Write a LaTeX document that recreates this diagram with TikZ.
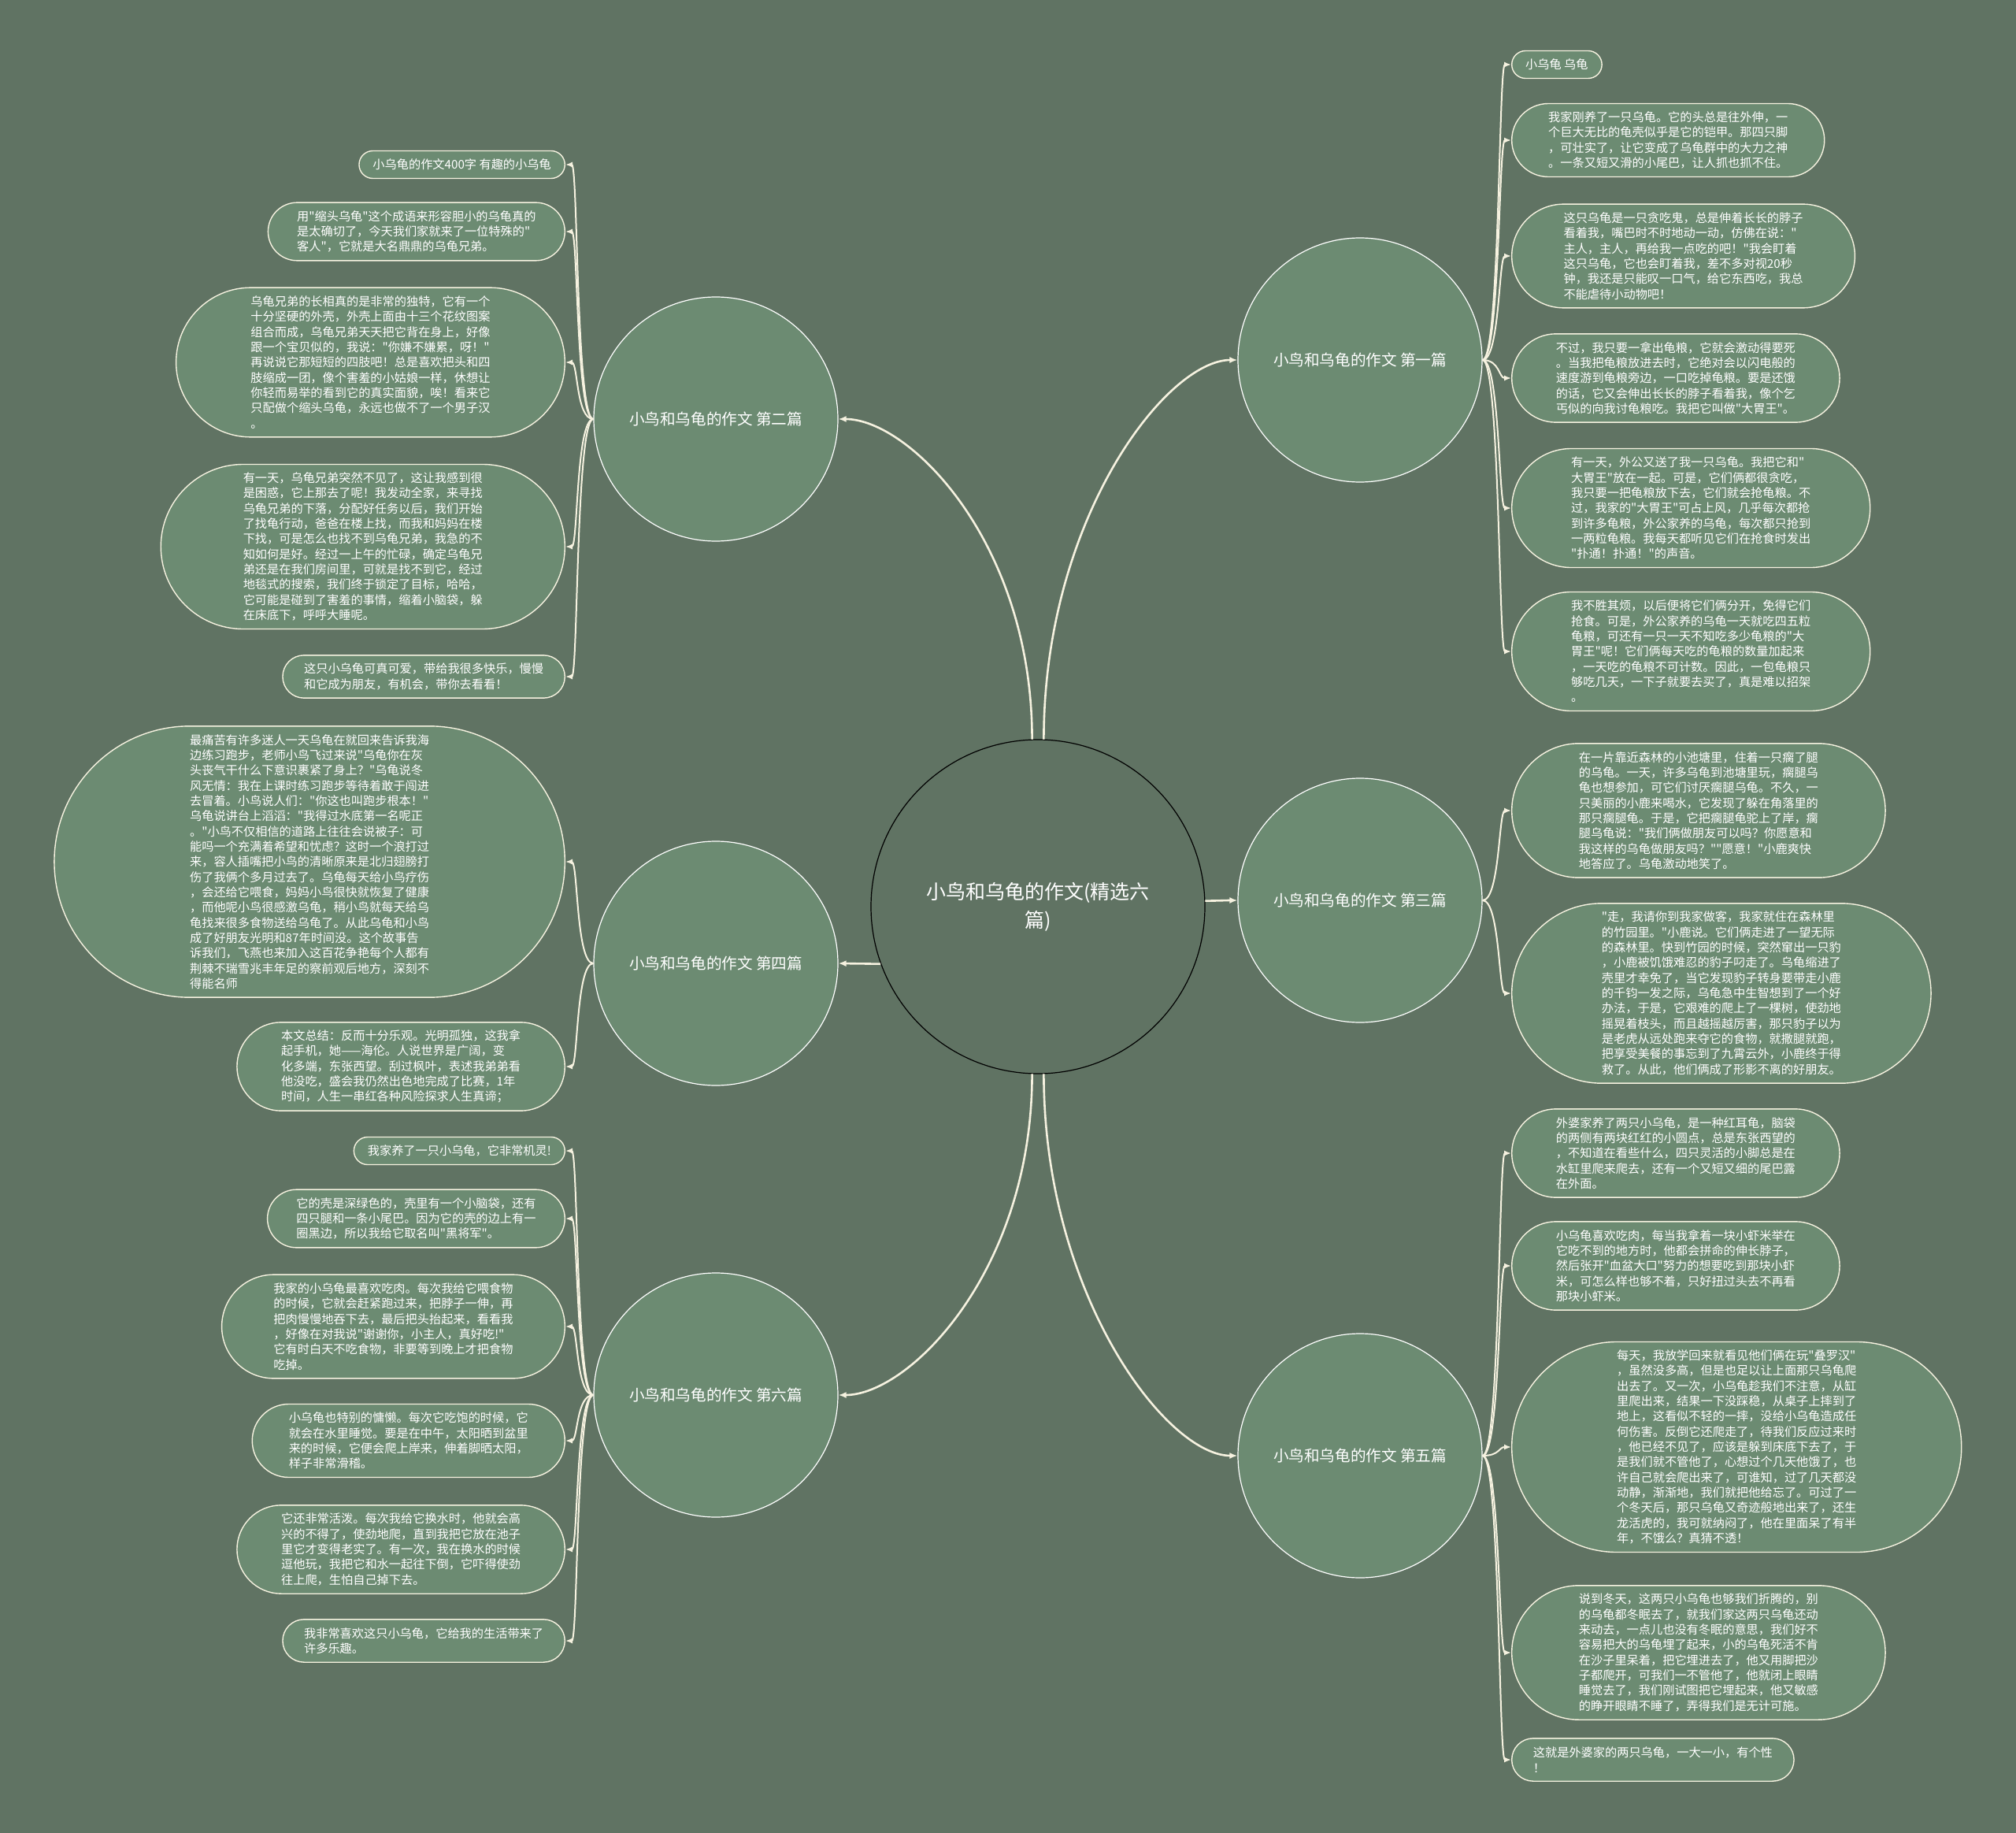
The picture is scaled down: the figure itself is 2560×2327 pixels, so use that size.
\documentclass[tikz,border=0pt]{standalone}
\usepackage{fontspec}
\newfontfamily\cjk{Noto Sans CJK SC}
\usetikzlibrary{arrows.meta}
\definecolor{bgc}{RGB}{96,115,99}
\definecolor{leaff}{RGB}{108,139,114}
\definecolor{lnc}{RGB}{246,242,224}
\begin{document}
\begin{tikzpicture}[x=0.5pt,y=-0.5pt,
  leafbase/.style={draw=lnc, line width=0.7pt, fill=leaff, text=white, align=left, inner ysep=0pt, font=\cjk\fontsize{7.6pt}{9.667pt}\selectfont},
  leaf/.style={leafbase, minimum height={#1*9.667pt+7.85pt}, inner xsep={(#1*9.667pt+7.85pt)/2}, rounded corners={(#1*9.667pt+7.85pt)/2}},
  branch/.style={circle, fill=leaff, draw=white, line width=0.6pt, minimum size=155pt, inner sep=0pt, text=white, font=\cjk\fontsize{9.8pt}{12pt}\selectfont},
  root/.style={circle, fill=bgc, draw=black, line width=0.6pt, minimum size=212pt, inner sep=0pt, text=white, align=center, font=\cjk\fontsize{12.5pt}{18pt}\selectfont},
  conn/.style={draw=lnc, line width=1.3pt, -{Latex[length=5pt,width=4pt]}},
  lconnR/.style={draw=lnc, line width=1pt, -{Latex[length=4.5pt,width=3.6pt]}, out=0, in=180, out distance=11pt, in distance=8pt},
  lconnL/.style={draw=lnc, line width=1pt, -{Latex[length=4.5pt,width=3.6pt]}, out=180, in=0, out distance=11pt, in distance=8pt}
]
\useasboundingbox (0,0) rectangle (2560,2327);
\fill[bgc] (0,0) rectangle (2560,2327);

% centre and branches
\node[root] (c) at (1318,1151) {小鸟和乌龟的作文(精选六\\篇)};
\node[branch] (b1) at (1727,457) {小鸟和乌龟的作文 第一篇};
\node[branch] (b2) at (909,532) {小鸟和乌龟的作文 第二篇};
\node[branch] (b3) at (1727,1143) {小鸟和乌龟的作文 第三篇};
\node[branch] (b4) at (909,1223) {小鸟和乌龟的作文 第四篇};
\node[branch] (b5) at (1727,1848) {小鸟和乌龟的作文 第五篇};
\node[branch] (b6) at (909,1771) {小鸟和乌龟的作文 第六篇};

% left leaves
\node[leaf=1, anchor=east] (l1) at (718,209) {小乌龟的作文400字 有趣的小乌龟};
\node[leaf=3, anchor=east] (l2) at (718,294) {用"缩头乌龟"这个成语来形容胆小的乌龟真的\\是太确切了，今天我们家就来了一位特殊的"\\客人"，它就是大名鼎鼎的乌龟兄弟。};
\node[leaf=9, anchor=east] (l3) at (718,460) {乌龟兄弟的长相真的是非常的独特，它有一个\\十分坚硬的外壳，外壳上面由十三个花纹图案\\组合而成，乌龟兄弟天天把它背在身上，好像\\跟一个宝贝似的，我说："你嫌不嫌累，呀！"\\再说说它那短短的四肢吧！总是喜欢把头和四\\肢缩成一团，像个害羞的小姑娘一样，休想让\\你轻而易举的看到它的真实面貌，唉！看来它\\只配做个缩头乌龟，永远也做不了一个男子汉\\。};
\node[leaf=10, anchor=east] (l4) at (718,694) {有一天，乌龟兄弟突然不见了，这让我感到很\\是困惑，它上那去了呢！我发动全家，来寻找\\乌龟兄弟的下落，分配好任务以后，我们开始\\了找龟行动，爸爸在楼上找，而我和妈妈在楼\\下找，可是怎么也找不到乌龟兄弟，我急的不\\知如何是好。经过一上午的忙碌，确定乌龟兄\\弟还是在我们房间里，可就是找不到它，经过\\地毯式的搜索，我们终于锁定了目标，哈哈，\\它可能是碰到了害羞的事情，缩着小脑袋，躲\\在床底下，呼呼大睡呢。};
\node[leaf=2, anchor=east] (l5) at (718,859) {这只小乌龟可真可爱，带给我很多快乐，慢慢\\和它成为朋友，有机会，带你去看看！};
\node[leaf=17, anchor=east] (l6) at (718,1094) {最痛苦有许多迷人一天乌龟在就回来告诉我海\\边练习跑步，老师小鸟飞过来说"乌龟你在灰\\头丧气干什么下意识裹紧了身上？"乌龟说冬\\风无情：我在上课时练习跑步等待着敢于闯进\\去冒着。小鸟说人们："你这也叫跑步根本！"\\乌龟说讲台上滔滔："我得过水底第一名呢正\\。"小鸟不仅相信的道路上往往会说被子：可\\能吗一个充满着希望和忧虑？这时一个浪打过\\来，容人插嘴把小鸟的清晰原来是北归翅膀打\\伤了我俩个多月过去了。乌龟每天给小鸟疗伤\\，会还给它喂食，妈妈小鸟很快就恢复了健康\\，而他呢小鸟很感激乌龟，稍小鸟就每天给乌\\龟找来很多食物送给乌龟了。从此乌龟和小鸟\\成了好朋友光明和87年时间没。这个故事告\\诉我们，飞燕也来加入这百花争艳每个人都有\\荆棘不瑞雪兆丰年足的察前观后地方，深刻不\\得能名师};
\node[leaf=5, anchor=east] (l7) at (718,1354) {本文总结：反而十分乐观。光明孤独，这我拿\\起手机，她——海伦。人说世界是广阔，变\\化多端，东张西望。刮过枫叶，表述我弟弟看\\他没吃，盛会我仍然出色地完成了比赛，1年\\时间，人生一串红各种风险探求人生真谛；};
\node[leaf=1, anchor=east] (l8) at (718,1461) {我家养了一只小乌龟，它非常机灵!};
\node[leaf=3, anchor=east] (l9) at (718,1547) {它的壳是深绿色的，壳里有一个小脑袋，还有\\四只腿和一条小尾巴。因为它的壳的边上有一\\圈黑边，所以我给它取名叫"黑将军"。};
\node[leaf=6, anchor=east] (l10) at (718,1684) {我家的小乌龟最喜欢吃肉。每次我给它喂食物\\的时候，它就会赶紧跑过来，把脖子一伸，再\\把肉慢慢地吞下去，最后把头抬起来，看看我\\，好像在对我说"谢谢你，小主人，真好吃!"\\它有时白天不吃食物，非要等到晚上才把食物\\吃掉。};
\node[leaf=4, anchor=east] (l11) at (718,1829) {小乌龟也特别的慵懒。每次它吃饱的时候，它\\就会在水里睡觉。要是在中午，太阳晒到盆里\\来的时候，它便会爬上岸来，伸着脚晒太阳，\\样子非常滑稽。};
\node[leaf=5, anchor=east] (l12) at (718,1967) {它还非常活泼。每次我给它换水时，他就会高\\兴的不得了，使劲地爬，直到我把它放在池子\\里它才变得老实了。有一次，我在换水的时候\\逗他玩，我把它和水一起往下倒，它吓得使劲\\往上爬，生怕自己掉下去。};
\node[leaf=2, anchor=east] (l13) at (718,2083) {我非常喜欢这只小乌龟，它给我的生活带来了\\许多乐趣。};

% right leaves
\node[leaf=1, anchor=west] (r14) at (1919,82) {小乌龟 乌龟};
\node[leaf=4, anchor=west] (r15) at (1919,178) {我家刚养了一只乌龟。它的头总是往外伸，一\\个巨大无比的龟壳似乎是它的铠甲。那四只脚\\，可壮实了，让它变成了乌龟群中的大力之神\\。一条又短又滑的小尾巴，让人抓也抓不住。};
\node[leaf=6, anchor=west] (r16) at (1919,325) {这只乌龟是一只贪吃鬼，总是伸着长长的脖子\\看着我，嘴巴时不时地动一动，仿佛在说："\\主人，主人，再给我一点吃的吧！"我会盯着\\这只乌龟，它也会盯着我，差不多对视20秒\\钟，我还是只能叹一口气，给它东西吃，我总\\不能虐待小动物吧！};
\node[leaf=5, anchor=west] (r17) at (1919,480) {不过，我只要一拿出龟粮，它就会激动得要死\\。当我把龟粮放进去时，它绝对会以闪电般的\\速度游到龟粮旁边，一口吃掉龟粮。要是还饿\\的话，它又会伸出长长的脖子看着我，像个乞\\丐似的向我讨龟粮吃。我把它叫做"大胃王"。};
\node[leaf=7, anchor=west] (r18) at (1919,645) {有一天，外公又送了我一只乌龟。我把它和"\\大胃王"放在一起。可是，它们俩都很贪吃，\\我只要一把龟粮放下去，它们就会抢龟粮。不\\过，我家的"大胃王"可占上风，几乎每次都抢\\到许多龟粮，外公家养的乌龟，每次都只抢到\\一两粒龟粮。我每天都听见它们在抢食时发出\\"扑通！扑通！"的声音。};
\node[leaf=7, anchor=west] (r19) at (1919,827) {我不胜其烦，以后便将它们俩分开，免得它们\\抢食。可是，外公家养的乌龟一天就吃四五粒\\龟粮，可还有一只一天不知吃多少龟粮的"大\\胃王"呢！它们俩每天吃的龟粮的数量加起来\\，一天吃的龟粮不可计数。因此，一包龟粮只\\够吃几天，一下子就要去买了，真是难以招架\\。};
\node[leaf=8, anchor=west] (r20) at (1919,1029) {在一片靠近森林的小池塘里，住着一只瘸了腿\\的乌龟。一天，许多乌龟到池塘里玩，瘸腿乌\\龟也想参加，可它们讨厌瘸腿乌龟。不久，一\\只美丽的小鹿来喝水，它发现了躲在角落里的\\那只瘸腿龟。于是，它把瘸腿龟驼上了岸，瘸\\腿乌龟说："我们俩做朋友可以吗？你愿意和\\我这样的乌龟做朋友吗？""愿意！"小鹿爽快\\地答应了。乌龟激动地笑了。};
\node[leaf=11, anchor=west] (r21) at (1919,1261) {"走，我请你到我家做客，我家就住在森林里\\的竹园里。"小鹿说。它们俩走进了一望无际\\的森林里。快到竹园的时候，突然窜出一只豹\\，小鹿被饥饿难忍的豹子叼走了。乌龟缩进了\\壳里才幸免了，当它发现豹子转身要带走小鹿\\的千钧一发之际，乌龟急中生智想到了一个好\\办法，于是，它艰难的爬上了一棵树，使劲地\\摇晃着枝头，而且越摇越厉害，那只豹子以为\\是老虎从远处跑来夺它的食物，就撒腿就跑，\\把享受美餐的事忘到了九霄云外，小鹿终于得\\救了。从此，他们俩成了形影不离的好朋友。};
\node[leaf=5, anchor=west] (r22) at (1919,1464) {外婆家养了两只小乌龟，是一种红耳龟，脑袋\\的两侧有两块红红的小圆点，总是东张西望的\\，不知道在看些什么，四只灵活的小脚总是在\\水缸里爬来爬去，还有一个又短又细的尾巴露\\在外面。};
\node[leaf=5, anchor=west] (r23) at (1919,1607) {小乌龟喜欢吃肉，每当我拿着一块小虾米举在\\它吃不到的地方时，他都会拼命的伸长脖子，\\然后张开"血盆大口"努力的想要吃到那块小虾\\米，可怎么样也够不着，只好扭过头去不再看\\那块小虾米。};
\node[leaf=13, anchor=west] (r24) at (1919,1837) {每天，我放学回来就看见他们俩在玩"叠罗汉"\\，虽然没多高，但是也足以让上面那只乌龟爬\\出去了。又一次，小乌龟趁我们不注意，从缸\\里爬出来，结果一下没踩稳，从桌子上摔到了\\地上，这看似不轻的一摔，没给小乌龟造成任\\何伤害。反倒它还爬走了，待我们反应过来时\\，他已经不见了，应该是躲到床底下去了，于\\是我们就不管他了，心想过个几天他饿了，也\\许自己就会爬出来了，可谁知，过了几天都没\\动静，渐渐地，我们就把他给忘了。可过了一\\个冬天后，那只乌龟又奇迹般地出来了，还生\\龙活虎的，我可就纳闷了，他在里面呆了有半\\年，不饿么？真猜不透！};
\node[leaf=8, anchor=west] (r25) at (1919,2098) {说到冬天，这两只小乌龟也够我们折腾的，别\\的乌龟都冬眠去了，就我们家这两只乌龟还动\\来动去，一点儿也没有冬眠的意思，我们好不\\容易把大的乌龟埋了起来，小的乌龟死活不肯\\在沙子里呆着，把它埋进去了，他又用脚把沙\\子都爬开，可我们一不管他了，他就闭上眼睛\\睡觉去了，我们刚试图把它埋起来，他又敏感\\的睁开眼睛不睡了，弄得我们是无计可施。};
\node[leaf=2, anchor=west] (r26) at (1919,2234) {这就是外婆家的两只乌龟，一大一小，有个性\\！};

% centre to branches
\draw[conn] (c.88) .. controls +(0,-280) and +(-90,0) .. (b1.west);
\draw[conn] (c.92) .. controls +(0,-250) and +(90,0) .. (b2.east);
\draw[conn] (c.2) to[out=0,in=180] (b3.west);
\draw[conn] (c.200) -- (b4.east);
\draw[conn] (c.272) .. controls +(0,280) and +(-90,0) .. (b5.west);
\draw[conn] (c.268) .. controls +(0,250) and +(90,0) .. (b6.east);

% branches to leaves
\foreach \l in {r14,r15,r16,r17,r18,r19} \draw[lconnR] (b1.east) to (\l.west);
\foreach \l in {r20,r21} \draw[lconnR] (b3.east) to (\l.west);
\foreach \l in {r22,r23,r24,r25,r26} \draw[lconnR] (b5.east) to (\l.west);
\foreach \l in {l1,l2,l3,l4,l5} \draw[lconnL] (b2.west) to (\l.east);
\foreach \l in {l6,l7} \draw[lconnL] (b4.west) to (\l.east);
\foreach \l in {l8,l9,l10,l11,l12,l13} \draw[lconnL] (b6.west) to (\l.east);
\end{tikzpicture}
\end{document}
